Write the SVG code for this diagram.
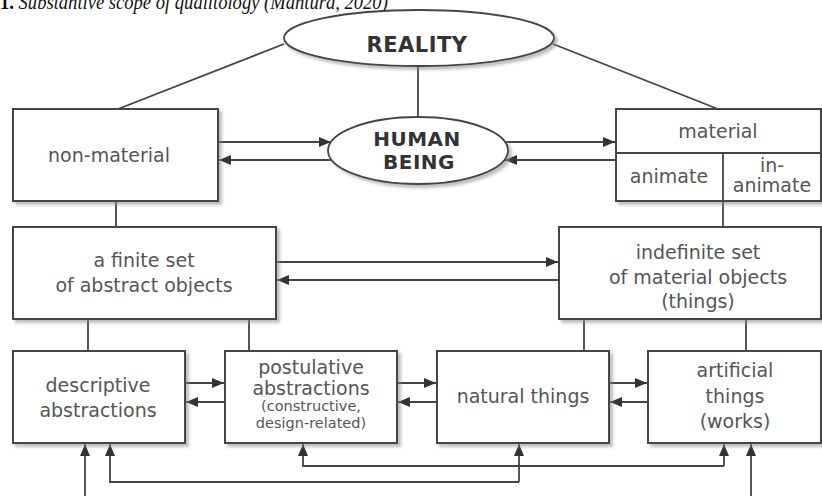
<svg xmlns="http://www.w3.org/2000/svg" width="822" height="496" viewBox="0 0 822 496">
<defs>
<filter id="sh" x="-10%" y="-10%" width="125%" height="130%">
<feDropShadow dx="3" dy="3" stdDeviation="1.6" flood-color="#888" flood-opacity="0.55"/>
</filter>
<marker id="ah" viewBox="0 0 12 10" refX="12" refY="5" markerWidth="12" markerHeight="10" markerUnits="userSpaceOnUse" orient="auto">
<path d="M0,0 L12,5 L0,10 Z" fill="#333"/>
</marker>
</defs>
<style>
.box{fill:#fff;stroke:#444;stroke-width:2;filter:url(#sh)}
.ell{fill:#fff;stroke:#444;stroke-width:1.8;filter:url(#sh)}
.ln{fill:none;stroke:#444;stroke-width:1.8}
.ar{fill:none;stroke:#444;stroke-width:1.8;marker-end:url(#ah)}
.t{font-family:"DejaVu Sans",Verdana,sans-serif;font-size:19px;fill:#555;text-anchor:middle}
.s{font-size:14.5px}
.b{font-family:"DejaVu Sans",Verdana,sans-serif;font-weight:bold;font-size:20px;fill:#333;text-anchor:middle;letter-spacing:0.5px}
.cap{font-family:"Liberation Serif","Times New Roman",serif;font-style:italic;font-size:21px;fill:#111}
</style>

<text class="cap" x="0" y="9" transform="scale(0.885,1)"><tspan font-weight="bold" font-style="normal">1.</tspan> Substantive scope of qualitology (Mantura, 2020)</text>

<g id="connectors">
<line class="ln" x1="284" y1="44" x2="118" y2="109"/>
<line class="ln" x1="553" y1="44" x2="718" y2="109"/>
<line class="ln" x1="418" y1="66" x2="418" y2="117"/>
<line class="ar" x1="219" y1="142" x2="331" y2="142"/>
<line class="ar" x1="332" y1="160" x2="219" y2="160"/>
<line class="ar" x1="505" y1="142" x2="615" y2="142"/>
<line class="ar" x1="615" y1="160" x2="505" y2="160"/>
<line class="ln" x1="116" y1="201" x2="116" y2="227"/>
<line class="ln" x1="723" y1="201" x2="723" y2="227"/>
<line class="ar" x1="277" y1="262" x2="558" y2="262"/>
<line class="ar" x1="558" y1="280" x2="277" y2="280"/>
<line class="ln" x1="88" y1="319" x2="88" y2="351"/>
<line class="ln" x1="249" y1="319" x2="249" y2="351"/>
<line class="ln" x1="584" y1="319" x2="584" y2="351"/>
<line class="ln" x1="746" y1="319" x2="746" y2="351"/>
<line class="ar" x1="186" y1="383" x2="224" y2="383"/>
<line class="ar" x1="224" y1="402" x2="186" y2="402"/>
<line class="ar" x1="398" y1="383" x2="436" y2="383"/>
<line class="ar" x1="436" y1="402" x2="398" y2="402"/>
<line class="ar" x1="610" y1="383" x2="647" y2="383"/>
<line class="ar" x1="647" y1="402" x2="610" y2="402"/>
<line class="ar" x1="85" y1="498" x2="85" y2="444"/>
<path class="ar" d="M519,482 H110 V444"/>
<line class="ar" x1="519" y1="482" x2="519" y2="444"/>
<path class="ar" d="M724,466 H303 V444"/>
<line class="ar" x1="724" y1="466" x2="724" y2="444"/>
<line class="ar" x1="751" y1="498" x2="751" y2="444"/>
</g>

<g id="reality">
<ellipse class="ell" cx="419" cy="38" rx="135" ry="28"/>
<text class="b" x="417" y="52" style="font-size:21px">REALITY</text>
</g>

<g id="human-being">
<ellipse class="ell" cx="418" cy="150.5" rx="90" ry="33.5"/>
<text class="b" x="417" y="146">HUMAN</text>
<text class="b" x="419" y="169">BEING</text>
</g>

<g id="non-material">
<rect class="box" x="13" y="109" width="205" height="92"/>
<text class="t" x="109" y="162">non-material</text>
</g>

<g id="material">
<rect class="box" x="616" y="109" width="205" height="92"/>
<line class="ln" x1="616" y1="153" x2="821" y2="153"/>
<line class="ln" x1="723" y1="153" x2="723" y2="201"/>
<text class="t" x="718" y="138">material</text>
<text class="t" x="669" y="183">animate</text>
<text class="t" x="772" y="172">in-</text>
<text class="t" x="772" y="192">animate</text>
</g>

<g id="finite-set">
<rect class="box" x="13" y="227" width="263" height="92"/>
<text class="t" x="144" y="267">a finite set</text>
<text class="t" x="144" y="292">of abstract objects</text>
</g>

<g id="indefinite-set">
<rect class="box" x="559" y="227" width="262" height="92"/>
<text class="t" x="698" y="259">indefinite set</text>
<text class="t" x="698" y="284">of material objects</text>
<text class="t" x="698" y="308">(things)</text>
</g>

<g id="descriptive">
<rect class="box" x="13" y="351" width="172" height="92"/>
<text class="t" x="98" y="392">descriptive</text>
<text class="t" x="98" y="417">abstractions</text>
</g>

<g id="postulative">
<rect class="box" x="225" y="351" width="172" height="92"/>
<text class="t" x="311" y="374">postulative</text>
<text class="t" x="311" y="395">abstractions</text>
<text class="t s" x="311" y="411">(constructive,</text>
<text class="t s" x="311" y="428">design-related)</text>
</g>

<g id="natural">
<rect class="box" x="437" y="351" width="172" height="92"/>
<text class="t" x="523" y="403">natural things</text>
</g>

<g id="artificial">
<rect class="box" x="648" y="351" width="173" height="92"/>
<text class="t" x="735" y="377">artificial</text>
<text class="t" x="735" y="403">things</text>
<text class="t" x="735" y="428">(works)</text>
</g>
</svg>
